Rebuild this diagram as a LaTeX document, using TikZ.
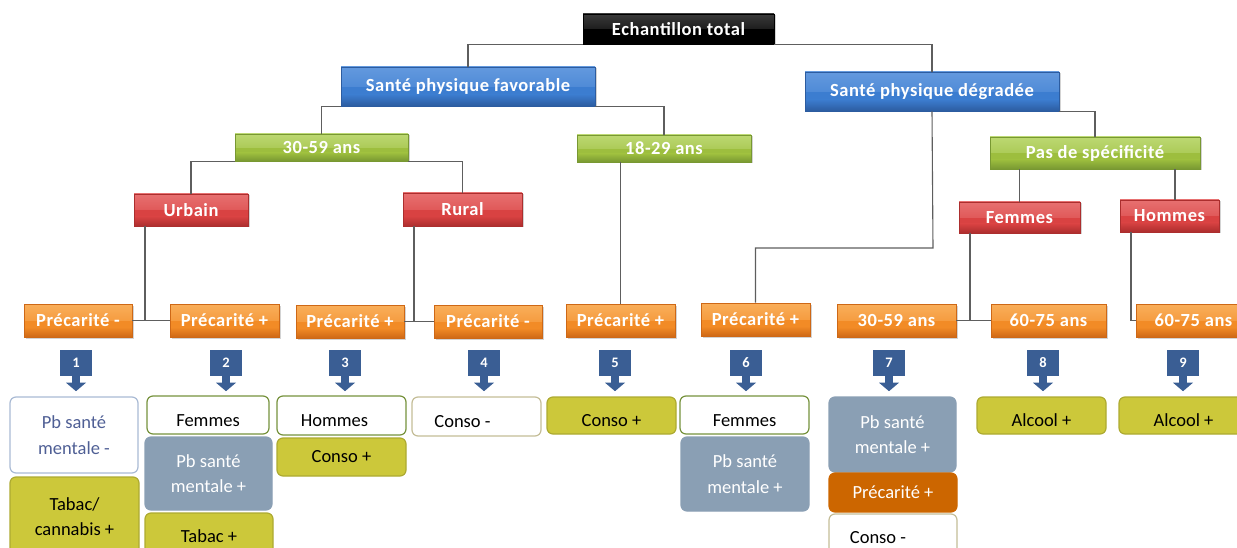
\documentclass[tikz,border=0pt]{standalone}
\usepackage{fontspec}
\setmainfont{Carlito}
\usetikzlibrary{shadows,calc}
\definecolor{linec}{HTML}{5E5E5E}
\definecolor{olivebox}{HTML}{CCC83A}
\definecolor{gbluebox}{HTML}{8A9FB4}
\definecolor{orangebox}{HTML}{CC6600}
\definecolor{greenborder}{HTML}{76923C}
\definecolor{tanborder}{HTML}{C4BD97}
\definecolor{markblue}{HTML}{3A5E94}
\definecolor{pbtext}{HTML}{4F5F95}
\definecolor{pbborder}{HTML}{A9BAD4}
\definecolor{redL}{HTML}{E77070}\definecolor{redM}{HTML}{D94242}\definecolor{redD}{HTML}{AC2E2E}
\definecolor{grnL}{HTML}{BCD872}\definecolor{grnM}{HTML}{9DBE3E}\definecolor{grnD}{HTML}{789832}
\definecolor{bluL}{HTML}{6399DE}\definecolor{bluM}{HTML}{3C7DD0}\definecolor{bluD}{HTML}{2C5CA0}
\definecolor{orgL}{HTML}{F9AE5A}\definecolor{orgM}{HTML}{F28B26}\definecolor{orgD}{HTML}{CE6816}
\definecolor{blkL}{HTML}{3A3A3A}\definecolor{blkM}{HTML}{000000}\definecolor{blkD}{HTML}{000000}
\newcommand{\hdrfont}{\bfseries\fontsize{18.5}{20}\selectfont\addfontfeature{LetterSpace=3}}
\newcommand{\leaffont}{\fontsize{18.5}{25.5}\selectfont}
\tikzset{
  hdr/.style={rectangle, inner sep=0pt, text=white, font=\hdrfont, fill=#1M, draw=#1D, line width=0.6pt,
    drop shadow={shadow xshift=1.5pt, shadow yshift=-1.5pt, opacity=0.35},
    path picture={
      \shade[top color=#1L, bottom color=#1M]
        (path picture bounding box.north west) rectangle
        ($(path picture bounding box.north east)!0.5!(path picture bounding box.south east)$);
      \shade[top color=#1M, bottom color=#1D]
        ($(path picture bounding box.north west)!0.7!(path picture bounding box.south west)$) rectangle
        (path picture bounding box.south east);
    }},
  conn/.style={draw=linec, line width=1.1pt},
  numbox/.style={rectangle, fill=markblue, text=white, font=\bfseries\fontsize{14.5}{15}\selectfont,
    minimum width=32pt, minimum height=26pt, inner sep=0pt},
  leaf/.style={rectangle, rounded corners=6pt, inner sep=0pt, align=center, font=\leaffont, line width=1.2pt},
  low/.style={text height=22pt, text depth=0pt},
}
\begin{document}
\begin{tikzpicture}[x=1pt, y=-1pt]
\useasboundingbox (0,0) rectangle (1237,548);
\clip (0,0) rectangle (1237,548);
% ---- header nodes
\node[hdr=blk, minimum width=191pt, minimum height=30pt] (tot) at (678.5,29) {Echantillon total};
\node[hdr=blu, minimum width=254pt, minimum height=39pt] (spf) at (468,86.5) {Santé physique favorable};
\node[hdr=blu, minimum width=254pt, minimum height=39pt] (spd) at (932,91.5) {Santé physique dégradée};
\node[hdr=grn, minimum width=173pt, minimum height=27pt] (a3059) at (321.5,147.5) {30-59 ans};
\node[hdr=grn, minimum width=174pt, minimum height=27pt] (a1829) at (664,148.5) {18-29 ans};
\node[hdr=grn, minimum width=210pt, minimum height=32pt] (pds) at (1095,153) {Pas de spécificité};
\node[hdr=red, minimum width=114pt, minimum height=32pt] (urb) at (191,210) {Urbain};
\node[hdr=red, minimum width=119pt, minimum height=33pt] (rur) at (462.5,209.5) {Rural};
\node[hdr=red, minimum width=121pt, minimum height=31pt] (fem) at (1019.5,217.5) {Femmes};
\node[hdr=red, minimum width=99pt, minimum height=32pt] (hom) at (1169.5,216) {Hommes};
\node[hdr=org, minimum width=108pt, minimum height=33pt] (p1) at (78,320.5) {Précarité -};
\node[hdr=org, minimum width=109pt, minimum height=33pt] (p2) at (224.5,320.5) {Précarité +};
\node[hdr=org, minimum width=108pt, minimum height=33pt] (p3) at (350,321.5) {Précarité +};
\node[hdr=org, minimum width=108pt, minimum height=33pt] (p4) at (488,321.5) {Précarité -};
\node[hdr=org, minimum width=109pt, minimum height=33pt] (p5) at (620.5,320.5) {Précarité +};
\node[hdr=org, minimum width=109pt, minimum height=33pt] (p6) at (755.5,319.5) {Précarité +};
\node[hdr=org, minimum width=119pt, minimum height=33pt] (p7) at (896.5,320.5) {30-59 ans};
\node[hdr=org, minimum width=115pt, minimum height=33pt] (p8) at (1048.5,320.5) {60-75 ans};
\node[hdr=org, minimum width=115pt, minimum height=33pt] (p9) at (1193.5,320.5) {60-75 ans};
% ---- connectors
\draw[conn] (tot.south west) -| (spf.north);
\draw[conn] (tot.south east) -| (spd.north);
\draw[conn] (spf.south west) -| (a3059.north);
\draw[conn] (spf.south east) -| (a1829.north);
\draw[conn] (a3059.south west) -| (urb.north);
\draw[conn] (a3059.south east) -| (rur.north);
\draw[conn] (spd.south east) -| (pds.north);
\draw[conn] (fem.north |- pds.south) -- (fem.north);
\coordinate (h0) at (1175,0);
\draw[conn] (h0 |- pds.south) -- (h0 |- hom.north);
\draw[conn] (p5.north |- a1829.south) -- (p5.north);
\coordinate (j1) at (145,320.5);
\draw[conn] (urb.south -| j1) -- (j1);
\draw[conn] (p1.east) -- (p2.west);
\coordinate (j2) at (414,321.5);
\draw[conn] (rur.south -| j2) -- (j2);
\draw[conn] (p3.east) -- (p4.west);
\coordinate (k6) at (933,248);
\draw[conn] (spd.south) -- (k6) -| (p6.north);
\coordinate (j7) at (970,320.5);
\draw[conn] (fem.south -| j7) -- (j7);
\draw[conn] (p7.east) -- (p8.west);
\coordinate (j9) at (1131,320.5);
\draw[conn] (hom.south -| j9) -- (j9) -- (p9.west);
% ---- number markers
\foreach \i/\x in {1/76,2/226,3/345,4/484,5/615,6/746,7/889,8/1043,9/1183}{
  \node[numbox] (m\i) at (\x,363) {\i};
  \fill[markblue] ($(m\i.south)+(-4,0)$) rectangle ($(m\i.south)+(4,7)$);
  \fill[markblue] ($(m\i.south)+(-10,6.5)$) -- ($(m\i.south)+(10,6.5)$) -- ($(m\i.south)+(0,15)$) -- cycle;
}
% ---- leaf boxes
\node[leaf, draw=pbborder, fill=white, text=pbtext, minimum width=128pt, minimum height=76pt] (b1a) at (74,435) {Pb santé\\mentale -};
\node[leaf, draw=olivebox!85!black, fill=olivebox, minimum width=129pt, minimum height=79pt] (b1b) at (74.5,516.5) {Tabac/\\cannabis +};
\node[leaf, low, draw=greenborder, fill=white, minimum width=122pt, minimum height=38pt] (b2a) at (208,415) {Femmes};
\node[leaf, draw=gbluebox, fill=gbluebox, text=white, minimum width=127pt, minimum height=73pt] (b2b) at (208.5,473.5) {Pb santé\\mentale +};
\node[leaf, draw=olivebox!85!black, fill=olivebox, minimum width=128pt, minimum height=46pt] (b2c) at (209,536) {Tabac +};
\node[leaf, low, draw=greenborder, fill=white, minimum width=129pt, minimum height=39pt] (b3a) at (341.5,415.5) {\hspace*{-14pt}Hommes};
\node[leaf, draw=olivebox!85!black, fill=olivebox, minimum width=129pt, minimum height=38pt] (b3b) at (341.5,457) {Conso +};
\node[leaf, low, draw=tanborder, fill=white, minimum width=129pt, minimum height=39pt] (b4) at (476.5,416.5) {\hspace*{-28pt}Conso -};
\node[leaf, low, draw=olivebox!85!black, fill=olivebox, minimum width=129pt, minimum height=37pt] (b5) at (611.5,415.5) {Conso +};
\node[leaf, low, draw=greenborder, fill=white, minimum width=129pt, minimum height=38pt] (b6a) at (744.5,415) {Femmes};
\node[leaf, draw=gbluebox, fill=gbluebox, text=white, minimum width=128pt, minimum height=74pt] (b6b) at (745,474) {Pb santé\\mentale +};
\node[leaf, draw=gbluebox, fill=gbluebox, text=white, minimum width=127pt, minimum height=75pt] (b7a) at (892.5,434.5) {Pb santé\\mentale +};
\node[leaf, draw=orangebox, fill=orangebox, text=white, minimum width=128pt, minimum height=39pt] (b7b) at (893,492.5) {Précarité +};
\node[leaf, draw=tanborder, fill=white, minimum width=128pt, minimum height=48pt] (b7c) at (893,538) {\hspace*{-30pt}Conso -};
\node[leaf, low, draw=olivebox!85!black, fill=olivebox, minimum width=129pt, minimum height=37pt] (b8) at (1041.5,415.5) {Alcool +};
\node[leaf, low, draw=olivebox!85!black, fill=olivebox, minimum width=129pt, minimum height=37pt] (b9) at (1183.5,415.5) {Alcool +};
\end{tikzpicture}
\end{document}
